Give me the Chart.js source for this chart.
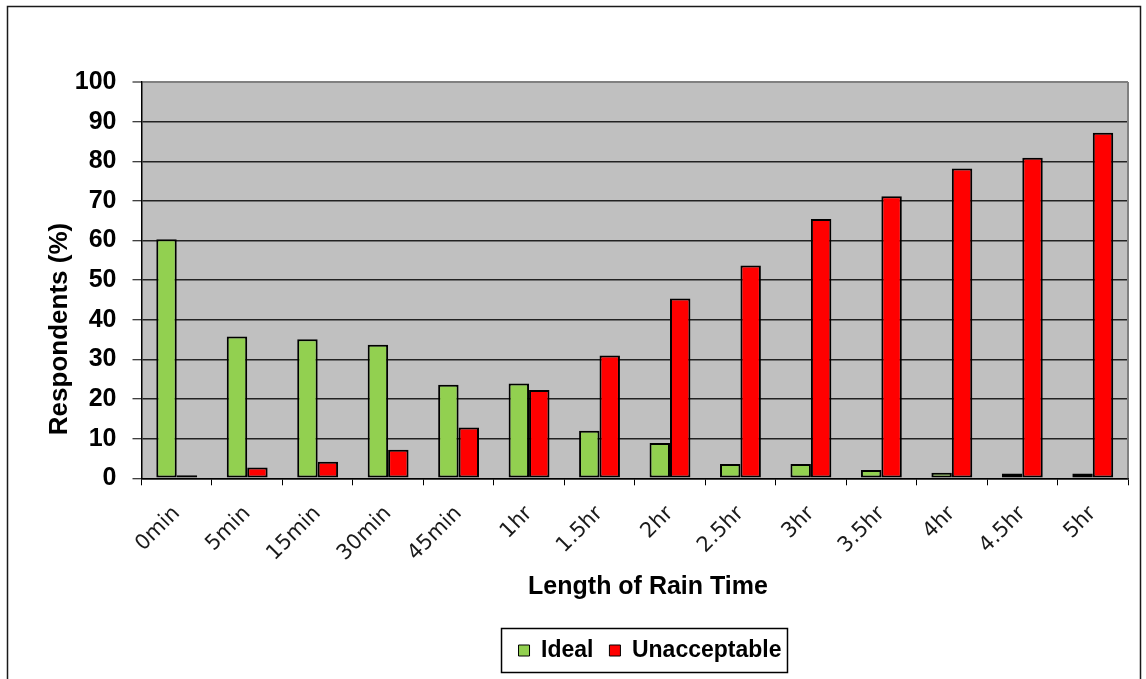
<!DOCTYPE html>
<html>
<head>
<meta charset="utf-8">
<script src="https://cdn.jsdelivr.net/npm/chart.js@4/dist/chart.umd.min.js"></script>
<style>
  html, body { margin: 0; padding: 0; background: #fff; }
  #wrap { width: 1146px; height: 679px; }
</style>
</head>
<body>
<div id="wrap"><canvas id="c" width="1146" height="679"></canvas></div>
<script>
// Length of rain time and share of respondents (%)
const categories = ['0min', '5min', '15min', '30min', '45min', '1hr', '1.5hr', '2hr', '2.5hr', '3hr', '3.5hr', '4hr', '4.5hr', '5hr'];
const idealValues = [60.3, 35.8, 35.1, 33.7, 23.6, 23.9, 12.0, 8.9, 3.6, 3.6, 2.1, 1.4, 1.2, 1.2];
const unacceptableValues = [0.8, 2.7, 4.2, 7.2, 12.8, 22.3, 31.0, 45.4, 53.7, 65.4, 71.2, 78.2, 80.9, 87.2];
const yTicks = [0, 10, 20, 30, 40, 50, 60, 70, 80, 90, 100];

const xTitle = 'Length of Rain Time';
const yTitle = 'Respondents (%)';

const BOLD = 'Liberation Sans, Arial, sans-serif';

// Page frame, grey plot background, axis titles and the boxed legend
const decor = {
  id: 'decor',
  afterLayout(chart) {
    const lg = chart.legend;
    const shift = 650 - (lg.left + lg.right) / 2;
    lg.left += shift;
    lg.right += shift;
  },
  beforeDraw(chart) {
    const { ctx, chartArea: a } = chart;
    ctx.save();
    ctx.fillStyle = '#ffffff';
    ctx.fillRect(0, 0, chart.width, chart.height);
    ctx.strokeStyle = '#1a1a1a';
    ctx.lineWidth = 1.5;
    ctx.beginPath();
    ctx.moveTo(7.5, 700);
    ctx.lineTo(7.5, 6.5);
    ctx.lineTo(1140.5, 6.5);
    ctx.lineTo(1140.5, 700);
    ctx.stroke();
    ctx.fillStyle = '#c0c0c0';
    ctx.fillRect(a.left, a.top, a.right - a.left, a.bottom - a.top);
    ctx.restore();
  },
  beforeDatasetsDraw(chart) {
    const { ctx, chartArea: a } = chart;
    ctx.save();
    ctx.strokeStyle = '#808080';
    ctx.lineWidth = 2;
    ctx.beginPath();
    ctx.moveTo(a.right, a.top);
    ctx.lineTo(a.right, a.bottom);
    ctx.stroke();
    ctx.restore();
  },
  afterDraw(chart) {
    const { ctx } = chart;
    ctx.save();
    ctx.fillStyle = '#000';
    ctx.textAlign = 'center';
    ctx.textBaseline = 'middle';
    ctx.font = 'bold 25px ' + BOLD;
    ctx.fillText(xTitle, 648, 587);
    ctx.translate(60, 329);
    ctx.rotate(-Math.PI / 2);
    ctx.font = 'bold 26px ' + BOLD;
    ctx.fillText(yTitle, 0, 0);
    ctx.restore();

    const hb = chart.legend.legendHitBoxes;
    if (hb && hb.length) {
      let l = Infinity, r = -Infinity;
      hb.forEach(h => { l = Math.min(l, h.left); r = Math.max(r, h.left + h.width); });
      const cy = hb[0].top + hb[0].height / 2;
      ctx.save();
      ctx.strokeStyle = '#000';
      ctx.lineWidth = 1.5;
      ctx.strokeRect(l - 17, cy - 22, (r + 6) - (l - 17), 44);
      ctx.restore();
    }
  }
};

new Chart(document.getElementById('c'), {
  type: 'bar',
  data: {
    labels: categories,
    datasets: [
      {
        label: 'Ideal',
        data: idealValues,
        backgroundColor: '#92d050',
        borderColor: '#000000',
        borderWidth: 2,
        borderSkipped: false
      },
      {
        label: 'Unacceptable',
        data: unacceptableValues,
        backgroundColor: '#ff0000',
        borderColor: '#000000',
        borderWidth: 2,
        borderSkipped: false
      }
    ]
  },
  options: {
    responsive: false,
    animation: false,
    events: [],
    layout: { padding: { left: 0, right: 18, top: 82, bottom: 7 } },
    datasets: { bar: { categoryPercentage: 0.58, barPercentage: 1.0 } },
    scales: {
      x: {
        offset: true,
        grid: {
          offset: true,
          drawOnChartArea: false,
          drawTicks: true,
          tickLength: 7,
          tickColor: '#000',
          tickWidth: 1
        },
        border: { display: true, color: '#000', width: 1.5 },
        ticks: {
          autoSkip: false,
          minRotation: 45,
          maxRotation: 45,
          padding: 16,
          color: '#1a1a1a',
          font: { family: 'DejaVu Sans', size: 21 }
        },
        afterFit(scale) { scale.height = 144.7; }
      },
      y: {
        min: 0,
        max: 100,
        afterBuildTicks(scale) { scale.ticks = yTicks.map(v => ({ value: v })); },
        grid: {
          color: ctx => (ctx.tick && ctx.tick.value === 100 ? '#808080' : '#222'),
          lineWidth: ctx => (ctx.tick && ctx.tick.value === 100 ? 2 : 1.5),
          drawTicks: true,
          tickLength: 9,
          tickColor: '#000',
          tickWidth: 1
        },
        border: { display: true, color: '#000', width: 1.5 },
        ticks: {
          padding: 16,
          color: '#000',
          font: { family: BOLD, size: 25, weight: 'bold' }
        },
        afterFit(scale) { scale.width = 141.5; }
      }
    },
    plugins: {
      legend: {
        position: 'bottom',
        labels: {
          boxWidth: 11,
          boxHeight: 11,
          padding: 16,
          color: '#000',
          font: { family: BOLD, size: 23, weight: 'bold' },
          generateLabels(chart) {
            return Chart.defaults.plugins.legend.labels.generateLabels(chart)
              .map(item => Object.assign(item, { lineWidth: 1 }));
          }
        }
      },
      tooltip: { enabled: false }
    }
  },
  plugins: [decor]
});
</script>
</body>
</html>
